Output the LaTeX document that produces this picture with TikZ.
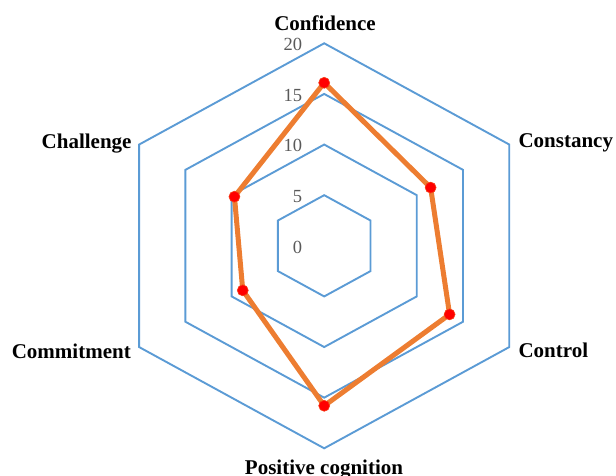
\documentclass[tikz,border=0pt]{standalone}
\usepackage{fontspec}
\setmainfont{Liberation Serif}
\definecolor{gridblue}{HTML}{5B9BD5}
\definecolor{seriesorange}{HTML}{ED7D31}
\definecolor{markred}{HTML}{FF0000}
\definecolor{ticgrey}{HTML}{595959}
\begin{document}
\begin{tikzpicture}[x=1pt,y=1pt,
  gridline/.style={draw=gridblue, line width=1.9pt, line join=miter},
  series/.style={draw=seriesorange, line width=5pt, line join=round},
  marker/.style={circle, fill=markred, draw=seriesorange!50!markred, line width=0.6pt, minimum size=11pt, inner sep=0pt},
  axislabel/.style={font=\fontsize{21}{21}\selectfont\bfseries, inner sep=0pt},
  ticklabel/.style={font=\fontsize{18.5}{18.5}\selectfont, text=ticgrey, inner sep=0pt, anchor=base east}]
\useasboundingbox (0,0) rectangle (616,475);
\begin{scope}[shift={(324.2,229.2)}, x=9.254pt, y=10.125pt]
  \foreach \v in {5,10,15,20}
    \draw[gridline] (0,\v) -- (\v,\v/2) -- (\v,-\v/2) -- (0,-\v) -- (-\v,-\v/2) -- (-\v,\v/2) -- cycle;
  \coordinate (pConf) at (0,16.1);
  \coordinate (pCons) at (11.5,5.75);
  \coordinate (pCont) at (13.55,-6.775);
  \coordinate (pPos) at (0,-15.8);
  \coordinate (pComm) at (-8.8,-4.4);
  \coordinate (pChal) at (-9.7,4.85);
\end{scope}
\draw[series] (pConf) -- (pCons) -- (pCont) -- (pPos) -- (pComm) -- (pChal) -- cycle;
\foreach \p in {pConf,pCons,pCont,pPos,pComm,pChal}
  \node[marker] (m\p) at (\p) {};
\node[ticklabel] (t0) at (302.3,221.8) {0};
\node[ticklabel] (t5) at (302.3,272.4) {5};
\node[ticklabel] (t10) at (302.3,323.1) {10};
\node[ticklabel] (t15) at (302.3,373.7) {15};
\node[ticklabel] (t20) at (302.3,424.3) {20};
\node[axislabel, anchor=base] (lConf) at (325,444.3) {Confidence};
\node[axislabel, anchor=base west] (lCons) at (518.3,327.7) {Constancy};
\node[axislabel, anchor=base west] (lCont) at (518.3,117.7) {Control};
\node[axislabel, anchor=base] (lPos) at (324,1) {Positive cognition};
\node[axislabel, anchor=base east] (lChal) at (131.7,326.7) {Challenge};
\node[axislabel, anchor=base east] (lComm) at (131,116.7) {Commitment};
\end{tikzpicture}
\end{document}
